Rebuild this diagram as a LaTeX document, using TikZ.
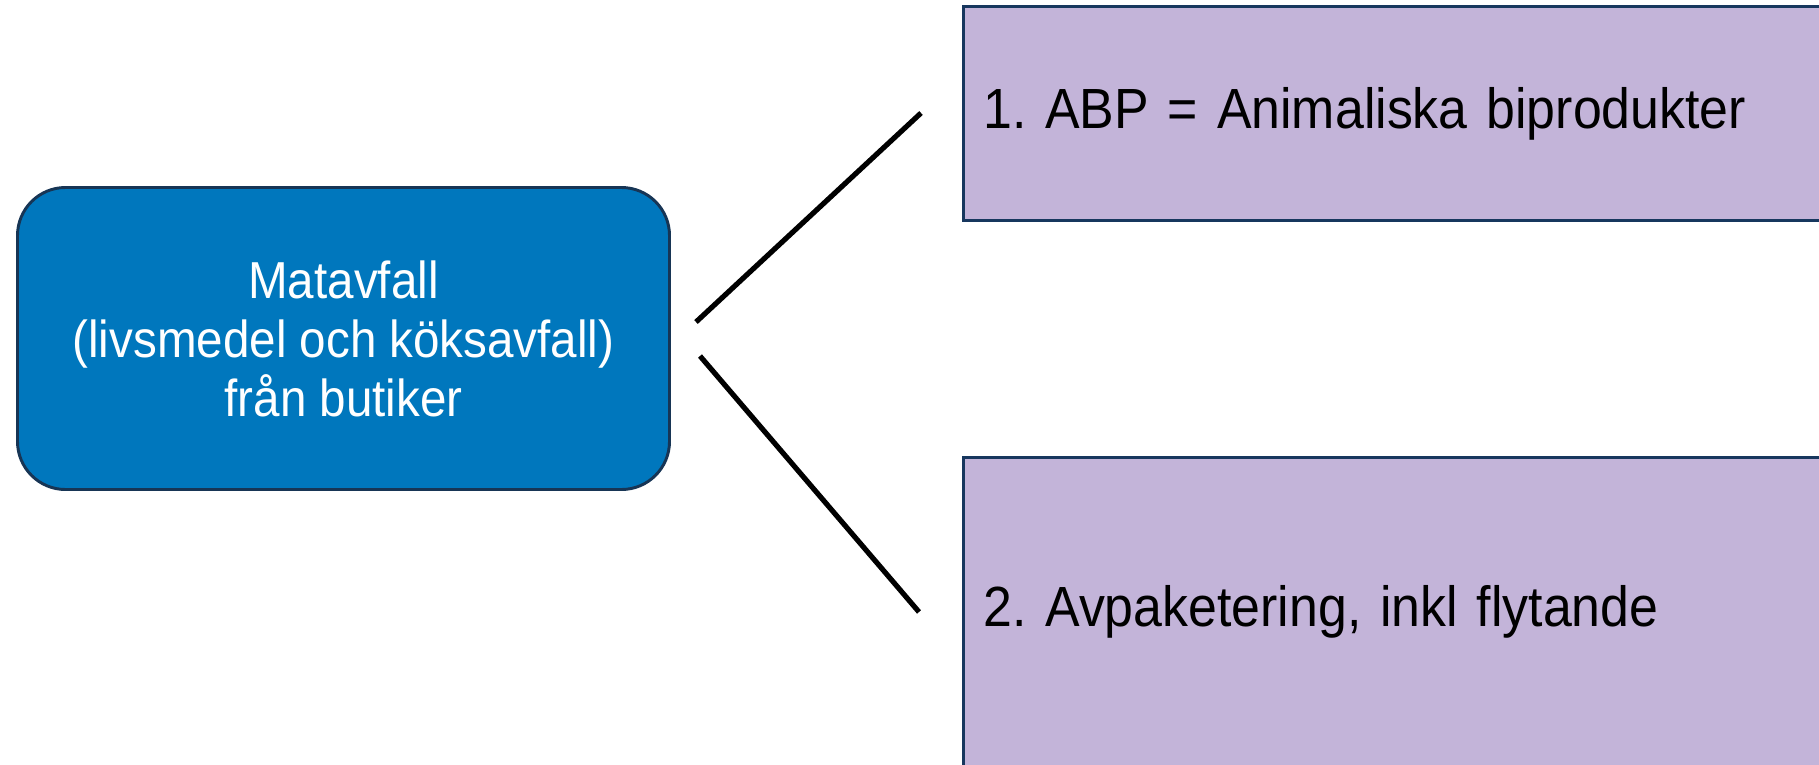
\documentclass[tikz,border=0pt]{standalone}
\usepackage{fontspec}
\setmainfont{Liberation Sans}
\newfontfamily\condfont[FakeStretch=0.915]{Liberation Sans}
\definecolor{srcblue}{HTML}{0077BD}
\definecolor{srcedge}{HTML}{173555}
\definecolor{boxpurple}{HTML}{C3B4D9}
\definecolor{boxedge}{HTML}{17375E}
\tikzset{
  srcbox/.style={draw=srcedge, line width=2.2pt, fill=srcblue, rounded corners=36pt,
    minimum width=489pt, minimum height=226.5pt, text=white, align=center,
    font=\condfont\fontsize{39}{44.3}\selectfont, inner sep=0pt},
  catbox/.style={draw=boxedge, line width=2pt, fill=boxpurple, minimum width=650pt,
    text width=620pt, align=left, inner xsep=15pt, inner ysep=0pt,
    font=\condfont\fontsize{42.5}{48}\selectfont, text=black},
  branch/.style={line width=3.9pt, black}
}
\begin{document}
\frenchspacing
\begin{tikzpicture}[x=0.75pt,y=-0.75pt]
\clip (0,0) rectangle (1819,764);
\fill[white] (0,0) rectangle (1819,764);
\node[srcbox] (src) at (343.5,338.5) {Matavfall\\(livsmedel och köksavfall)\\från butiker};
\node[catbox, minimum height=160.5pt] (abp) at (1396.5,113.5) {\raisebox{-3pt}{1. ABP = Animaliska biprodukter}};
\node[catbox, minimum height=232pt] (avp) at (1396.5,612) {\raisebox{-1pt}{2. Avpaketering, inkl flytande}};
\coordinate (a1) at (696,322);
\coordinate (a2) at (921,113);
\coordinate (b1) at (700,356);
\coordinate (b2) at (919,612);
\draw[branch] (a1) -- (a2);
\draw[branch] (b1) -- (b2);
\end{tikzpicture}
\end{document}
